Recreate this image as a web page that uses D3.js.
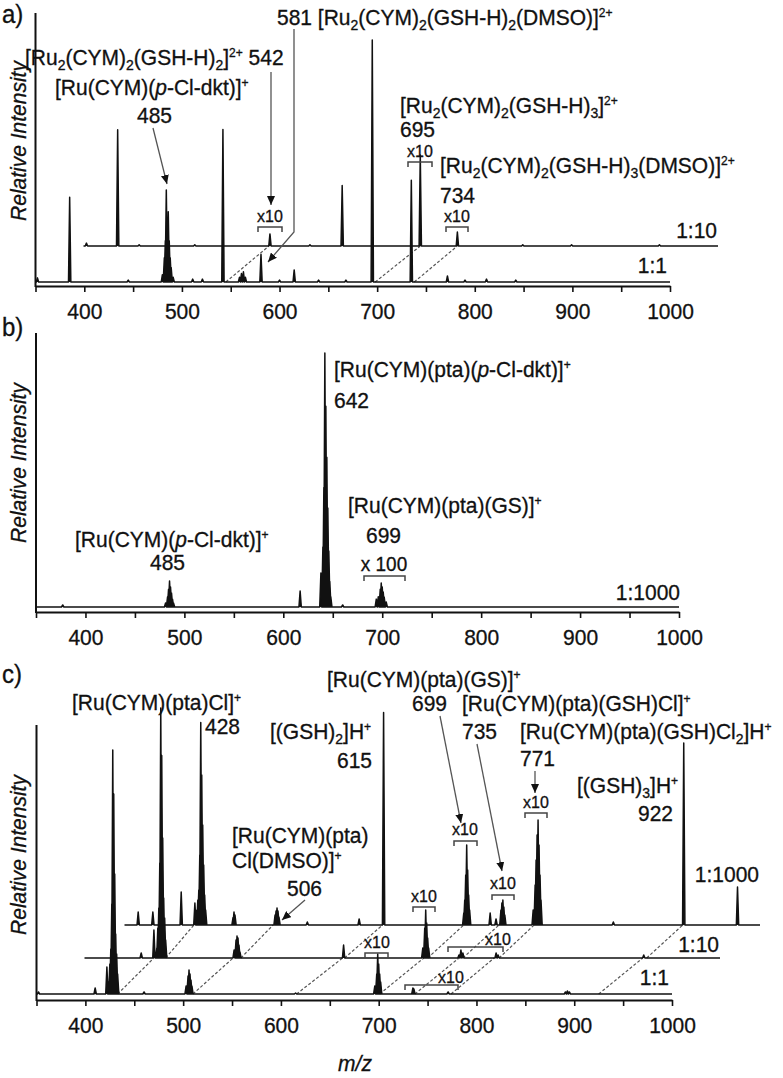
<!DOCTYPE html>
<html>
<head>
<meta charset="utf-8">
<script src="https://cdn.jsdelivr.net/npm/d3@7"></script>
<style>
  body { margin: 0; background: #fff; }
  svg text { font-family: "Liberation Sans", Arial, sans-serif; font-size: 21px; fill: #111; stroke: #111; stroke-width: 0.3px; }
  .tick text { font-size: 21px; }
  .xlab { font-size: 16px; }
  .xlab.wide { font-size: 19px; }
  .tag { font-size: 24px; }
  .ititle { font-style: italic; }
</style>
</head>
<body>
<div class="viz"></div>
<script>

/* DATA: peaks as [m/z, relative intensity %] */
const mzTicks = [400, 500, 600, 700, 800, 900, 1000];
const ratios = ["1:1", "1:10", "1:1000"];

// panel a
const a_1to1 = [[352, 1.7], [385, 35], [445, 0.8], [480, 3], [482, 10], [483, 17], [484, 38], [485, 25],
    [486, 29], [487, 17], [488, 10], [489, 6], [491, 2], [511, 1.2], [521, 1.2], [542, 63], [559, 2],
    [561, 3.5], [563, 4.2], [565, 2], [581, 11.5], [600, 0.8], [615, 5], [640, 0.8], [668, 0.8],
    [695, 100], [735, 42], [772, 2.5], [790, 0.8], [812, 1.2], [842, 0.8]];
const a_1to10 = [[353, 1.2], [385, 48], [407, 0.5], [464, 0.5], [541, 5], [582, 0.5], [615, 25],
    [695, 37.6], [733, 5.8], [800, 0.5], [850, 0.5], [940, 0.5]];

// panel b
const b_1to1000 = [[377, 0.8], [481, 1.6], [483, 4], [484, 7], [485, 10.2], [486, 7.9], [487, 5.5],
    [488, 3.1], [489, 1.6], [617, 6.3], [638, 13.4], [640, 23.6], [641, 47], [642, 100], [643, 79],
    [644, 59], [645, 39], [646, 22], [647, 10], [648, 4], [660, 0.8], [694, 3.1], [696, 4], [698, 7],
    [699, 9.4], [700, 7.9], [701, 5.9], [702, 3.9], [704, 2]];

// panel c
const c_1to1 = [[352, 0.8], [410, 2.4], [422, 10.8], [424, 4.8], [425, 12], [426, 18], [427, 36],
    [428, 97.6], [429, 80], [430, 48], [431, 24], [432, 16], [433, 8], [460, 0.8], [503, 3.2],
    [505, 7.2], [506, 9.6], [507, 8], [508, 5.6], [509, 3.2], [615, 0.4], [696, 3.2], [698, 8],
    [699, 16], [700, 12], [701, 8], [702, 4.8], [735, 2.4], [736, 2], [771, 0.8], [891, 0.8],
    [893, 1.2], [895, 0.8]];
const c_1to10 = [[408, 2], [421, 11.2], [424, 4], [425, 12], [426, 20], [427, 38], [428, 100],
    [429, 81], [430, 48], [431, 24], [432, 16], [433, 7.2], [503, 3.2], [505, 7.2], [506, 8.8],
    [507, 8], [508, 5.2], [509, 2.4], [615, 5.2], [696, 4], [698, 12], [699, 19.2], [700, 14],
    [701, 8], [702, 4], [733, 1.2], [735, 3.2], [737, 2], [771, 2], [773, 1.2], [922, 1.2]];
const c_1to1000 = [[364, 5.2], [379, 5.2], [408, 13.2], [422, 8.8], [424, 6], [425, 10], [426, 14],
    [427, 28], [428, 81], [429, 60], [430, 40], [431, 24], [432, 12], [433, 6], [461, 3], [462, 5.2],
    [463, 4], [504, 4], [505, 5.6], [506, 6.8], [507, 5.6], [508, 3.2], [537, 1.2], [590, 2.4],
    [615, 85], [697, 4.8], [698, 10], [699, 20], [700, 32], [701, 22], [702, 12], [703, 6], [724, 4.8],
    [730, 2.4], [735, 6], [736, 8.8], [737, 10], [738, 7.2], [739, 4], [768, 6], [770, 16], [771, 26],
    [772, 36], [773, 42], [774, 32], [775, 20], [776, 10], [850, 1.2], [922, 72.8], [977, 15.2]];

// dashed links between stacked traces: [m/z in lower trace, m/z in upper trace]
const a_links = [[545, 540], [698, 695], [738, 733]];
const c_links = [[433, 421], [510, 502], [616, 614], [701, 697], [737, 733], [774, 769], [925, 921]];

/* LAYOUT */
const stretch = 1.06;   // glyphs in the source are a bit taller than wide
const steps = [{ dx: 0, dy: 0 }, { dx: 48, dy: -36 }, { dx: 88, dy: -69 }];

const panels = [
    { tag: "a)", tagY: 23, range: [35.5, 670], axisY: 286, base: 282, top: 13, tall: 242, titleY: 141,
      traces: [{ peaks: a_1to1, step: 0, r: 0, lift: 9, back: 3 }, { peaks: a_1to10, step: 1, r: 1, lift: 8, back: 1 }],
      links: a_links,
      notes: [
        { t: "581 [Ru_{2}(CYM)_{2}(GSH-H)_{2}(DMSO)]^{2+}", x: 277, y: 25 },
        { t: "[Ru_{2}(CYM)_{2}(GSH-H)_{2}]^{2+} 542", x: 25, y: 65 },
        { t: "[Ru(CYM)(*p*-Cl-dkt)]^{+}", x: 55, y: 95 },
        { t: "485", x: 137, y: 123 },
        { t: "[Ru_{2}(CYM)_{2}(GSH-H)_{3}]^{2+}", x: 400, y: 113 },
        { t: "695", x: 400, y: 137 },
        { t: "[Ru_{2}(CYM)_{2}(GSH-H)_{3}(DMSO)]^{2+}", x: 440, y: 173 },
        { t: "734", x: 440, y: 203 }
      ],
      arrows: [[[153, 128], [167, 184]], [[271, 72], [271, 205]], [[294, 29], [294, 232], [268, 262]]],
      brackets: [
        { x0: 258, x1: 282, y: 227, t: "x10", tx: 270, ty: 222 },
        { x0: 408, x1: 432, y: 162, t: "x10", tx: 420, ty: 157 },
        { x0: 446, x1: 468, y: 227, t: "x10", tx: 457, ty: 222 }
      ] },
    { tag: "b)", tagY: 336, range: [36, 679], axisY: 612, base: 607, top: 333, tall: 254, titleY: 463,
      traces: [{ peaks: b_1to1000, step: 0, r: 2, lift: 7, back: -1 }],
      links: [],
      notes: [
        { t: "[Ru(CYM)(pta)(*p*-Cl-dkt)]^{+}", x: 334, y: 377 },
        { t: "642", x: 334, y: 408 },
        { t: "[Ru(CYM)(pta)(GS)]^{+}", x: 348, y: 513 },
        { t: "699", x: 366, y: 543 },
        { t: "[Ru(CYM)(*p*-Cl-dkt)]^{+}", x: 75, y: 547 },
        { t: "485", x: 150, y: 570 }
      ],
      arrows: [],
      brackets: [{ x0: 364, x1: 405, y: 576, t: "x 100", tx: 384, ty: 571, wide: true }] },
    { tag: "c)", tagY: 683, range: [36.5, 672], axisY: 1000, base: 994, top: 725, tall: 250, titleY: 855,
      traces: [{ peaks: c_1to1, step: 0, r: 0, lift: 9, back: 3 }, { peaks: c_1to10, step: 1, r: 1, lift: 6, back: 1 },
               { peaks: c_1to1000, step: 2, r: 2, lift: 43, back: 1 }],
      links: c_links,
      notes: [
        { t: "[Ru(CYM)(pta)Cl]^{+}", x: 72, y: 710 },
        { t: "428", x: 205, y: 734 },
        { t: "[Ru(CYM)(pta)(GS)]^{+}", x: 327, y: 687 },
        { t: "699", x: 412, y: 711 },
        { t: "[Ru(CYM)(pta)(GSH)Cl]^{+}", x: 462, y: 711 },
        { t: "[(GSH)_{2}]H^{+}", x: 270, y: 739 },
        { t: "615", x: 337, y: 768 },
        { t: "735", x: 462, y: 739 },
        { t: "[Ru(CYM)(pta)(GSH)Cl_{2}]H^{+}", x: 520, y: 739 },
        { t: "771", x: 520, y: 766 },
        { t: "[(GSH)_{3}]H^{+}", x: 577, y: 793 },
        { t: "922", x: 638, y: 821 },
        { t: "[Ru(CYM)(pta)", x: 232, y: 843 },
        { t: "Cl(DMSO)]^{+}", x: 232, y: 868 },
        { t: "506", x: 287, y: 896 }
      ],
      arrows: [[[305, 900], [282, 920]], [[440, 716], [461, 823]], [[477, 744], [502, 871]], [[535, 771], [535, 793]]],
      brackets: [
        { x0: 454, x1: 477, y: 841, t: "x10", tx: 465, ty: 835 },
        { x0: 492, x1: 514, y: 895, t: "x10", tx: 503, ty: 889 },
        { x0: 525, x1: 547, y: 813, t: "x10", tx: 536, ty: 808 },
        { x0: 413, x1: 435, y: 907, t: "x10", tx: 424, ty: 902 },
        { x0: 448, x1: 503, y: 947, t: "x10", tx: 498, ty: 945 },
        { x0: 365, x1: 388, y: 953, t: "x10", tx: 377, ty: 948 },
        { x0: 405, x1: 458, y: 985, t: "x10", tx: 451, ty: 983 }
      ] }
];

const svg = d3.select('.viz')
    .append('svg')
    .attr('width', 783)
    .attr('height', 1078);

svg.append("defs").append("marker")
    .attr("id", "head")
    .attr("markerUnits", "userSpaceOnUse")
    .attr("markerWidth", 9)
    .attr("markerHeight", 8)
    .attr("refX", 9)
    .attr("refY", 4)
    .attr("orient", "auto")
    .append("path")
    .attr("d", "M0,0 L9,4 L0,8 Z")
    .attr("fill", "#111");

// text with _{sub}, ^{sup} and *italic* parts
function richText(g, str, x, y, anchor) {
    const t = g.append("text")
        .attr("transform", "translate(" + x + "," + y + ") scale(1," + stretch + ")")
        .attr("text-anchor", anchor || "start")
        .style("white-space", "pre");
    const parts = str.split(/(_\{[^}]*\}|\^\{[^}]*\}|\*[^*]*\*)/).filter(function(s) { return s.length; });
    let shift = 0;
    parts.forEach(function(s) {
        let txt = s, dy = 0, size = null, italic = false;
        if (s.startsWith("_{")) { txt = s.slice(2, -1); dy = 4.5; size = 14; }
        else if (s.startsWith("^{")) { txt = s.slice(2, -1); dy = -8; size = 12; }
        else if (s.startsWith("*")) { txt = s.slice(1, -1); italic = true; }
        const ts = t.append("tspan").attr("dy", dy - shift).text(txt);
        shift = dy;
        if (size) ts.style("font-size", size + "px");
        if (italic) ts.style("font-style", "italic");
    });
    return t;
}

// one narrow spike per peak on a flat baseline
function peakPoints(peaks) {
    const w = 1.2;
    const pts = [[350, 0]];
    peaks.slice().sort(function(p, q) { return p[0] - q[0]; }).forEach(function(p) {
        pts.push([p[0] - w, 0], [p[0], p[1]], [p[0] + w, 0]);
    });
    pts.push([1000, 0]);
    return pts;
}

panels.forEach(function(p) {
    const g = svg.append("g");

    const x = d3.scaleLinear().domain([350, 1000]).range(p.range);
    const y = d3.scaleLinear().domain([0, 100]).range([p.base, p.base - p.tall]);

    // x axis
    g.append("g")
        .attr("transform", "translate(0," + p.axisY + ")")
        .call(d3.axisBottom(x)
            .tickValues(d3.range(350, 1001, 50))
            .tickSize(6)
            .tickSizeOuter(0)
            .tickPadding(12)
            .tickFormat(function(d) { return mzTicks.indexOf(d) >= 0 ? d : ""; }))
        .call(function(a) {
            a.select(".domain").attr("stroke-width", 2).attr("stroke", "#111");
            a.selectAll(".tick line").attr("stroke-width", 1.6).attr("stroke", "#111");
            a.selectAll(".tick text")
                .attr("y", 16.5)
                .attr("transform", "scale(1," + stretch + ")");
        });

    // y axis line
    g.append("line")
        .attr("x1", x(350)).attr("x2", x(350))
        .attr("y1", p.axisY + 1).attr("y2", p.top)
        .attr("stroke", "#111")
        .attr("stroke-width", 2);

    // dashed links
    p.links.forEach(function(l) {
        for (let k = 0; k < p.traces.length - 1; k++) {
            const s0 = steps[k], s1 = steps[k + 1];
            g.append("line")
                .attr("x1", x(l[0]) + s0.dx).attr("y1", p.base + s0.dy)
                .attr("x2", x(l[1]) + s1.dx).attr("y2", p.base + s1.dy)
                .attr("stroke", "#555")
                .attr("stroke-width", 1.2)
                .attr("stroke-dasharray", "3,2");
        }
    });

    // traces
    p.traces.forEach(function(tr) {
        const s = steps[tr.step];
        const line = d3.line()
            .x(function(d) { return x(d[0]) + s.dx; })
            .y(function(d) { return y(d[1]) + s.dy; });
        g.append("path")
            .attr("d", line(peakPoints(tr.peaks)))
            .attr("fill", "#111")
            .attr("stroke", "#111")
            .attr("stroke-width", 1.5)
            .attr("stroke-linejoin", "round");
        richText(g, ratios[tr.r], x(1000) + s.dx - tr.back, p.base + s.dy - tr.lift, "end");
    });

    // brackets
    p.brackets.forEach(function(b) {
        g.append("path")
            .attr("d", "M" + b.x0 + "," + (b.y + 5) + "V" + b.y + "H" + b.x1 + "V" + (b.y + 5))
            .attr("fill", "none")
            .attr("stroke", "#444")
            .attr("stroke-width", 1.5);
        richText(g, b.t, b.tx, b.ty, "middle").attr("class", b.wide ? "xlab wide" : "xlab");
    });

    // arrows
    p.arrows.forEach(function(a) {
        g.append("path")
            .attr("d", d3.line()(a))
            .attr("fill", "none")
            .attr("stroke", "#555")
            .attr("stroke-width", 1.3)
            .attr("marker-end", "url(#head)");
    });

    // labels
    p.notes.forEach(function(n) { richText(g, n.t, n.x, n.y); });

    richText(g, p.tag, 2, p.tagY).attr("class", "tag");

    g.append("text")
        .attr("class", "ititle")
        .attr("transform", "translate(26," + p.titleY + ") rotate(-90) scale(1," + stretch + ")")
        .attr("text-anchor", "middle")
        .text("Relative Intensity");
});

richText(svg, "m/z", 355, 1071, "middle").attr("class", "ititle");

</script>
</body>
</html>
